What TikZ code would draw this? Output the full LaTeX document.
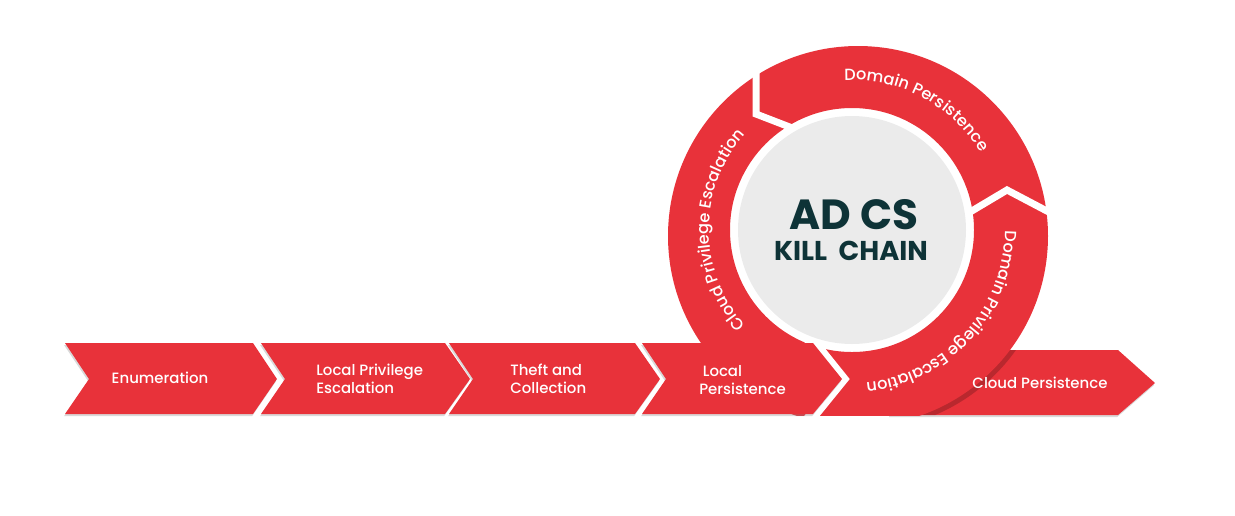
\documentclass[tikz,border=0pt]{standalone}
\usepackage{fontspec}
\setmainfont{Poppins Medium}[BoldFont={Poppins Bold}]
\usepackage{xcolor}
\usetikzlibrary{decorations.text,shadows}
\definecolor{chainred}{HTML}{E8323A}
\definecolor{hubgray}{HTML}{EBEBEB}
\definecolor{hubink}{HTML}{0E3337}

\begin{document}
\begin{tikzpicture}[
  x=0.02cm, y=-0.02cm,
  stage/.style={
    fill=chainred,
    drop shadow={shadow xshift=-0.5pt, shadow yshift=-1.2pt, opacity=.3},
  },
  stagetext/.style={
    text=white, inner sep=0pt, align=left,
    font=\fontsize{8.5}{10.2}\selectfont,
  },
  gap/.style={draw=white, line width=0.14cm},
  ringtext/.style={
    decorate,
    decoration={text along path, text align=center, text color=white,
      text={|\fontsize{9.2}{10}\selectfont|#1}},
  },
]
\useasboundingbox (0,0) rectangle (1235,515);

% --- last stage, under the ring --------------------------------------
\fill[stage] (890,350) -- (1118,350) -- (1155,383) -- (1118,415) -- (890,415) -- cycle;
\begin{scope}
  \clip (890,350) -- (1118,350) -- (1155,383) -- (1118,415) -- (890,415) -- cycle;
  \fill[black, opacity=.2] (861,240) circle[radius=190];
\end{scope}

% --- ring ------------------------------------------------------------
\begin{scope}
  \clip (0,0) rectangle (1235,415);
  \fill[chainred, even odd rule] (858,236) circle[radius=190] (852,230) circle[radius=122];
\end{scope}
\draw[gap] (756,55) -- (756,114) -- (800,131);
\draw[gap] (955,221) -- (1007,190) -- (1064,220);
\draw[white, line width=0.24cm] (809,338) -- (842,379) -- (803,427);

\fill[hubgray] (852,230) circle[radius=114];

% --- stages along the bottom -----------------------------------------
\foreach \l/\c/\t in {65/253/277, 261/445/470, 449/635/660, 642/813/842}
  \fill[stage] (\l,343) -- (\c,343) -- (\t,379) -- (\c,414) -- (\l,414) -- (\l+24,379) -- cycle;

\node[stagetext] (enum) at (160,378) {Enumeration};
\node[stagetext, anchor=west] (lpe) at (316,379) {Local Privilege\\Escalation};
\node[stagetext, anchor=west] (theft) at (510,379) {Theft and\\Collection};
\node[stagetext, anchor=west] (lpers) at (699,380) {\hspace{2pt}Local\\Persistence};
\node[stagetext] (cpers) at (1040,383) {Cloud Persistence};

% --- hub -------------------------------------------------------------
\node[text=hubink, font=\bfseries\fontsize{24}{24}\selectfont] (adcs) at (854,215) {AD CS};
\node[text=hubink, font=\bfseries\fontsize{15.5}{16}\selectfont] (kill) at (851,251) {KILL\ \ CHAIN};

% --- ring labels -----------------------------------------------------
\path[ringtext={Cloud Privilege Escalation}] (852,230) ++(110:143) arc[start angle=110, end angle=250, radius=143];
\path[ringtext={Domain Persistence}] (852,230) ++(-130:150) arc[start angle=-130, end angle=6, radius=150];
\path[ringtext={Domain Privilege Escalation}] (852,230) ++(-25:153) arc[start angle=-25, end angle=110, radius=153];

\end{tikzpicture}
\end{document}
